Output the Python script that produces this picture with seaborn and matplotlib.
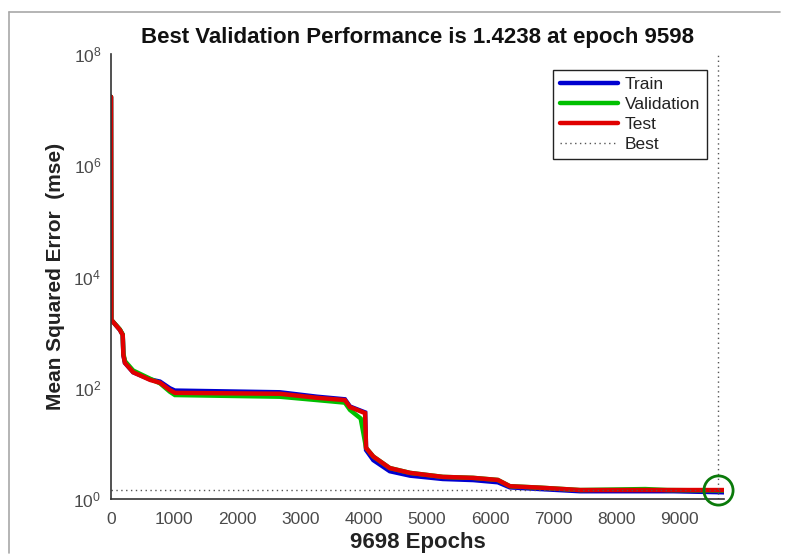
import matplotlib
matplotlib.use("Agg")
import matplotlib.pyplot as plt
import matplotlib.lines as mlines
import seaborn as sns
import pandas as pd

# Training record (mse per epoch, sampled at the breakpoints of each curve)
train_epochs = [0, 5, 140, 185, 195, 220, 350, 620, 775, 930, 1010, 2670, 3260, 3700, 3780,
                4020, 4035, 4150, 4410, 4730, 5250, 5730, 6120, 6310, 6790, 7420, 8900, 9698]
train_mse = [1.7e7, 1660, 1100, 890, 390, 280, 190, 141, 129, 98, 89, 83, 69, 62, 46,
             36, 7.6, 5.0, 3.16, 2.63, 2.29, 2.19, 2.0, 1.62, 1.51, 1.38, 1.38, 1.32]

val_epochs = [0, 5, 140, 185, 195, 220, 350, 620, 775, 930, 1010, 2670, 3260, 3700, 3780,
              3950, 4035, 4150, 4410, 4730, 5250, 5730, 6120, 6310, 6790, 7420, 8450, 8800,
              9598, 9698]
val_mse = [1.7e7, 1660, 1120, 910, 417, 302, 204, 145, 120, 85, 74, 69, 60, 54, 40,
           28, 8.3, 5.8, 3.6, 2.95, 2.5, 2.4, 2.2, 1.7, 1.6, 1.45, 1.51, 1.45,
           1.4238, 1.4238]

test_epochs = [0, 5, 140, 185, 195, 220, 350, 620, 775, 930, 1010, 2670, 3260, 3700, 3780,
               4020, 4035, 4150, 4410, 4730, 5250, 5730, 6120, 6310, 6790, 7420, 9698]
test_mse = [1.7e7, 1660, 1100, 890, 390, 280, 190, 138, 123, 91, 81, 78, 66, 60, 45,
            35, 8.3, 5.8, 3.6, 2.95, 2.5, 2.4, 2.2, 1.7, 1.6, 1.45, 1.45]

total_epochs = 9698
best_epoch = 9598
best_perf = 1.4238

y_ticks = [1e0, 1e2, 1e4, 1e6, 1e8]
y_tick_labels = [r"$10^{0}$", r"$10^{2}$", r"$10^{4}$", r"$10^{6}$", r"$10^{8}$"]
x_ticks = [0, 1000, 2000, 3000, 4000, 5000, 6000, 7000, 8000, 9000]

sns.set_theme(style="white")
plt.rcParams["font.family"] = ["Liberation Sans", "DejaVu Sans"]
plt.rcParams["mathtext.fontset"] = "custom"
plt.rcParams["mathtext.rm"] = "Liberation Sans"
plt.rcParams["mathtext.it"] = "Liberation Sans"

fig = plt.figure(figsize=(7.88, 5.57), dpi=100)
ax = fig.add_axes([0.1409, 0.1041, 0.7779, 0.799])

frame_col = "#a8a8a8"
fig.add_artist(mlines.Line2D([9 / 788, 780 / 788], [1 - 12 / 557, 1 - 12 / 557],
                             transform=fig.transFigure, color=frame_col, lw=1.2))
fig.add_artist(mlines.Line2D([9 / 788, 9 / 788], [1 - 12 / 557, 1 - 553 / 557],
                             transform=fig.transFigure, color=frame_col, lw=1.2))

series = [
    ("Train", train_epochs, train_mse, "#0000d0"),
    ("Validation", val_epochs, val_mse, "#00c000"),
    ("Test", test_epochs, test_mse, "#e00000"),
]
handles = []
for name, ep, mse, col in series:
    df = pd.DataFrame({"Epoch": ep, "MSE": mse})
    sns.lineplot(data=df, x="Epoch", y="MSE", ax=ax, color=col, linewidth=3.2,
                 estimator=None, sort=False, solid_joinstyle="miter")
    handles.append(mlines.Line2D([], [], color=col, lw=3.2, label=name))

ax.set_yscale("log")
best_kw = dict(color="#555555", lw=1.0, linestyle=(0, (1, 2.5)))
ax.axhline(best_perf, **best_kw)
ax.axvline(best_epoch, **best_kw)
handles.append(mlines.Line2D([], [], label="Best", **best_kw))

ax.plot([best_epoch], [best_perf], marker="o", markersize=21, mfc="none",
        mec="#0a7a0a", mew=2.0, ls="none", clip_on=False, zorder=5)

ax.set_xlim(0, total_epochs)
ax.set_ylim(1e0, 1e8)
ax.set_yticks(y_ticks)
ax.set_yticklabels(y_tick_labels)
ax.yaxis.set_minor_locator(matplotlib.ticker.NullLocator())
ax.set_xticks(x_ticks)
ax.set_xticklabels([str(t) for t in x_ticks])

tick_col = "#4a4a4a"
ax.tick_params(axis="both", direction="in", length=5, width=1.0, color="#222222",
               labelcolor=tick_col, labelsize=12.5, pad=7)
ax.tick_params(axis="x", pad=9)
for side in ("top", "right"):
    ax.spines[side].set_visible(False)
for side in ("left", "bottom"):
    ax.spines[side].set_color("#333333")
    ax.spines[side].set_linewidth(1.2)

ax.set_title(f"Best Validation Performance is {best_perf} at epoch {best_epoch}",
             fontsize=16, fontweight="bold", color="#111111", pad=8)
ax.set_xlabel(f"{total_epochs} Epochs", fontsize=16, fontweight="bold",
              color="#222222", labelpad=4)
ax.set_ylabel("Mean Squared Error  (mse)", fontsize=15, fontweight="bold",
              color="#222222", labelpad=6)

leg = ax.legend(handles=handles, loc="upper right", bbox_to_anchor=(0.972, 0.964),
                borderaxespad=0, fontsize=12.5, handlelength=3.3, handletextpad=0.4,
                labelspacing=0.28, borderpad=0.4, fancybox=False, frameon=True,
                framealpha=1)
leg.get_frame().set_edgecolor("#222222")
leg.get_frame().set_linewidth(1.0)
for t in leg.get_texts():
    t.set_color("#222222")

fig.savefig("out.png", dpi=100)
